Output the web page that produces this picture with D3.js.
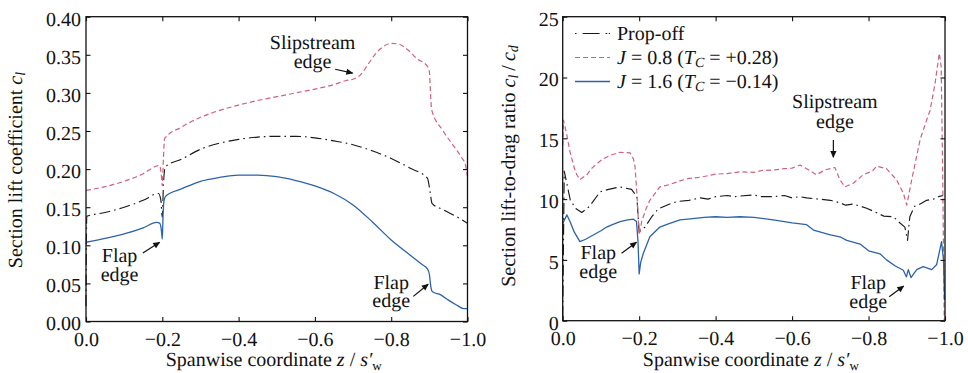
<!DOCTYPE html>
<html>
<head>
<meta charset="utf-8">
<script src="https://cdn.jsdelivr.net/npm/d3@7"></script>
<style>
  html, body { margin: 0; padding: 0; background: #fff; }
  svg { display: block; }
  svg text { font-family: "Nimbus Roman", "Tinos", "Liberation Serif", "FreeSerif", serif; text-rendering: geometricPrecision; }
</style>
</head>
<body>
<svg id="chart" width="968" height="373"></svg>
<script>
// Spanwise sections z / s'_w (0 = root, -1 = tip); pairs are [z, value]

// Section lift coefficient c_l
const clPropOff = [[0,0.02],[-0.002,0.138],[-0.05,0.143],[-0.1,0.150],[-0.15,0.159],[-0.19,0.168],[-0.196,0.160],
  [-0.2,0.137],[-0.203,0.180],[-0.208,0.203],[-0.25,0.213],[-0.3,0.226],[-0.35,0.234],[-0.4,0.239],[-0.45,0.242],
  [-0.5,0.243],[-0.55,0.243],[-0.6,0.241],[-0.65,0.237],[-0.7,0.232],[-0.75,0.224],[-0.8,0.214],[-0.85,0.201],
  [-0.895,0.188],[-0.902,0.170],[-0.907,0.155],[-0.935,0.147],[-0.97,0.138],[-1.0,0.129]];
const clJ08 = [[0,0.172],[-0.05,0.177],[-0.1,0.184],[-0.15,0.194],[-0.185,0.204],[-0.192,0.205],[-0.197,0.195],
  [-0.2,0.178],[-0.203,0.215],[-0.206,0.240],[-0.25,0.255],[-0.3,0.268],[-0.35,0.277],[-0.4,0.284],[-0.45,0.290],
  [-0.5,0.295],[-0.55,0.300],[-0.6,0.305],[-0.65,0.311],[-0.68,0.316],[-0.7,0.318],[-0.72,0.324],[-0.74,0.338],
  [-0.76,0.352],[-0.78,0.361],[-0.8,0.365],[-0.82,0.364],[-0.84,0.358],[-0.87,0.344],[-0.893,0.336],[-0.9,0.328],
  [-0.903,0.300],[-0.906,0.278],[-0.935,0.251],[-0.97,0.226],[-0.985,0.215],[-0.995,0.205],[-1.0,0.19]];
const clJ16 = [[0,0.104],[-0.05,0.109],[-0.1,0.115],[-0.15,0.123],[-0.185,0.130],[-0.193,0.129],[-0.198,0.118],
  [-0.2,0.108],[-0.202,0.140],[-0.205,0.160],[-0.21,0.165],[-0.25,0.174],[-0.3,0.184],[-0.35,0.189],[-0.4,0.192],
  [-0.45,0.192],[-0.5,0.190],[-0.55,0.185],[-0.6,0.178],[-0.65,0.168],[-0.7,0.153],[-0.75,0.131],[-0.8,0.107],
  [-0.85,0.087],[-0.88,0.075],[-0.895,0.069],[-0.9,0.062],[-0.904,0.045],[-0.908,0.039],[-0.93,0.035],
  [-0.95,0.028],[-0.97,0.022],[-0.99,0.017],[-1.0,0.017]];

// Section lift-to-drag ratio c_l / c_d
const ldPropOff = [[0,0.3],[-0.004,12.3],[-0.01,11.4],[-0.02,9.9],[-0.035,9.2],[-0.05,8.9],[-0.07,9.4],[-0.098,10.6],
  [-0.12,10.8],[-0.15,11.0],[-0.18,10.8],[-0.194,10.2],[-0.2,7.3],[-0.215,7.7],[-0.233,8.55],[-0.25,9.2],
  [-0.28,9.6],[-0.3,9.8],[-0.33,9.9],[-0.36,10.1],[-0.38,10.0],[-0.4,10.2],[-0.43,10.3],[-0.45,10.2],[-0.464,10.25],
  [-0.5,10.35],[-0.52,10.2],[-0.551,10.2],[-0.58,10.3],[-0.6,10.1],[-0.62,10.2],[-0.638,10.1],[-0.67,10.0],
  [-0.7,9.9],[-0.725,9.7],[-0.74,9.5],[-0.76,9.6],[-0.795,9.25],[-0.82,8.9],[-0.84,8.6],[-0.865,8.55],[-0.88,8.1],
  [-0.895,7.7],[-0.902,6.6],[-0.905,7.6],[-0.908,8.55],[-0.92,9.4],[-0.935,9.6],[-0.952,9.9],[-0.97,10.0],
  [-0.983,10.2],[-0.995,10.3]];
const ldJ08 = [[0,14.4],[-0.002,16.5],[-0.01,15.4],[-0.019,13.9],[-0.03,12.6],[-0.037,12.0],[-0.045,11.6],
  [-0.063,12.0],[-0.075,12.5],[-0.089,12.9],[-0.105,13.3],[-0.124,13.6],[-0.15,13.85],[-0.176,13.8],[-0.185,13.3],
  [-0.189,12.7],[-0.194,10.5],[-0.2,7.05],[-0.207,8.2],[-0.218,9.2],[-0.228,9.9],[-0.254,11.0],[-0.28,11.2],
  [-0.307,11.5],[-0.33,11.7],[-0.36,11.8],[-0.4,12.05],[-0.43,12.1],[-0.464,12.25],[-0.5,12.2],[-0.52,12.35],
  [-0.551,12.4],[-0.58,12.5],[-0.6,12.55],[-0.621,12.8],[-0.638,12.5],[-0.664,12.0],[-0.686,12.4],[-0.712,12.6],
  [-0.725,11.6],[-0.738,11.0],[-0.76,11.3],[-0.786,12.0],[-0.81,12.3],[-0.821,12.7],[-0.847,12.5],[-0.873,11.6],
  [-0.891,10.5],[-0.9,9.5],[-0.913,11.6],[-0.935,14.9],[-0.952,16.5],[-0.961,17.3],[-0.974,19.5],[-0.985,22.0],
  [-0.99,20.9],[-0.994,12.0],[-0.998,0]];
const ldJ16 = [[0,8.0],[-0.011,8.7],[-0.02,8.1],[-0.03,7.3],[-0.045,6.5],[-0.06,6.7],[-0.08,7.05],[-0.1,7.4],
  [-0.115,7.7],[-0.13,7.9],[-0.15,8.15],[-0.17,8.3],[-0.185,8.35],[-0.193,8.15],[-0.197,6.5],[-0.2,3.85],
  [-0.204,4.8],[-0.211,5.55],[-0.228,6.9],[-0.254,7.7],[-0.28,8.0],[-0.307,8.3],[-0.34,8.4],[-0.37,8.5],
  [-0.4,8.55],[-0.43,8.5],[-0.464,8.55],[-0.5,8.5],[-0.551,8.3],[-0.6,8.05],[-0.638,7.9],[-0.656,7.45],
  [-0.7,7.05],[-0.725,6.9],[-0.743,6.6],[-0.778,6.3],[-0.8,5.75],[-0.83,5.5],[-0.847,5.0],[-0.87,4.5],
  [-0.891,4.15],[-0.899,3.6],[-0.904,4.2],[-0.911,3.55],[-0.926,4.2],[-0.943,4.45],[-0.965,4.2],[-0.978,4.6],
  [-0.991,6.5],[-0.996,5.0],[-0.999,1.7]];

// Axis ticks
const spanTicks = [0, -0.2, -0.4, -0.6, -0.8, -1.0];
const clTicks = [0, 0.05, 0.10, 0.15, 0.20, 0.25, 0.30, 0.35, 0.40];
const ldTicks = [0, 5, 10, 15, 20, 25];

const seriesNames = ["Prop-off", "J08", "J16"];

const styles = {
  "Prop-off": { color: "#1a1a1a", dash: "11,4,1.6,4", width: 1.15 },
  "J08": { color: "#d2607b", dash: "5,3", width: 1.2 },
  "J16": { color: "#2c62ac", dash: null, width: 1.3 }
};

const FS = 20;
const svg = d3.select("#chart");

svg.append("defs").append("marker")
  .attr("id", "arrowhead")
  .attr("viewBox", "0 0 10 10")
  .attr("refX", 9).attr("refY", 5)
  .attr("markerWidth", 8).attr("markerHeight", 7)
  .attr("markerUnits", "userSpaceOnUse")
  .attr("orient", "auto")
  .append("path").attr("d", "M0,0.5 L10,5 L0,9.5 Z").attr("fill", "#111");

const fmtMinus = s => s.replace("-", "\u2212");

function addRichText(sel, parts) {
  parts.forEach(p => {
    const t = sel.append("tspan").text(p.t);
    if (p.i) t.attr("font-style", "italic");
    if (p.sub) t.attr("font-size", p.fs || 14).attr("baseline-shift", p.shift || "-22%");
  });
}

function panel(cfg) {
  const g = svg.append("g");
  const x = d3.scaleLinear().domain([0, -1]).range([cfg.left, cfg.right]);
  const y = d3.scaleLinear().domain(cfg.yDomain).range([cfg.bottom, cfg.top]);

  // series
  const line = d3.line().x(d => x(d[0])).y(d => y(d[1]));
  if (cfg.smooth) line.curve(d3.curveMonotoneX);
  cfg.series.forEach((data, i) => {
    const st = styles[seriesNames[i]];
    g.append("path").datum(data)
      .attr("fill", "none")
      .attr("stroke", st.color)
      .attr("stroke-width", st.width)
      .attr("stroke-dasharray", st.dash)
      .attr("stroke-linejoin", "round")
      .attr("d", line);
  });

  // axes: ticks point inward on all four sides
  const tl = 4.5;
  const axB = g.append("g").attr("transform", `translate(0,${cfg.bottom})`)
    .call(d3.axisBottom(x).tickValues(spanTicks).tickSize(-tl).tickPadding(10)
      .tickFormat(d => fmtMinus(d3.format(".1f")(d))));
  const axT = g.append("g").attr("transform", `translate(0,${cfg.top})`)
    .call(d3.axisTop(x).tickValues(spanTicks).tickSize(-tl).tickFormat(""));
  const axL = g.append("g").attr("transform", `translate(${cfg.left},0)`)
    .call(d3.axisLeft(y).tickValues(cfg.yTicks).tickSize(-tl).tickPadding(cfg.yPad)
      .tickFormat(cfg.yFormat));
  const axR = g.append("g").attr("transform", `translate(${cfg.right},0)`)
    .call(d3.axisRight(y).tickValues(cfg.yTicks).tickSize(-tl).tickFormat(""));
  [axB, axT, axL, axR].forEach(a => {
    a.attr("font-family", null);
    a.select(".domain").remove();
    a.selectAll(".tick line").attr("stroke", "#111").attr("stroke-width", 1.1);
    a.selectAll("text").attr("font-size", FS).attr("fill", "#111");
  });
  axL.selectAll("text").attr("dy", "0.42em");
  axB.selectAll("text").attr("dy", "0.71em");

  g.append("rect")
    .attr("x", cfg.left).attr("y", cfg.top)
    .attr("width", cfg.right - cfg.left).attr("height", cfg.bottom - cfg.top)
    .attr("fill", "none").attr("stroke", "#111").attr("stroke-width", 1.3);

  // x-axis title
  const xt = g.append("text")
    .attr("x", (cfg.left + cfg.right) / 2 - 3).attr("y", 366)
    .attr("text-anchor", "middle").attr("font-size", FS).attr("fill", "#111");
  addRichText(xt, [
    { t: "Spanwise coordinate " }, { t: "z", i: true }, { t: " / " }, { t: "s\u2032", i: true },
    { t: "w", sub: true, fs: 13, shift: "-30%" }
  ]);

  // y-axis title
  const yt = g.append("text")
    .attr("transform", `translate(${cfg.yTitleX},${cfg.yTitleY}) rotate(-90)`)
    .attr("text-anchor", "middle").attr("font-size", FS).attr("fill", "#111");
  addRichText(yt, cfg.yTitle);

  // annotations
  cfg.notes.forEach(n => {
    const t = g.append("text")
      .attr("x", x(n.tz)).attr("y", y(n.tv))
      .attr("text-anchor", "middle").attr("font-size", FS).attr("fill", "#111");
    n.lines.forEach((s, k) => {
      t.append("tspan").attr("x", x(n.tz)).attr("dy", k === 0 ? 0 : n.gap).text(s);
    });
    g.append("line")
      .attr("x1", x(n.from[0])).attr("y1", y(n.from[1]))
      .attr("x2", x(n.to[0])).attr("y2", y(n.to[1]))
      .attr("stroke", "#111").attr("stroke-width", 1.2)
      .attr("marker-end", "url(#arrowhead)");
  });
  return { g, x, y };
}

panel({
  left: 86, right: 467.5, top: 16.7, bottom: 321.5,
  yDomain: [0, 0.40], yTicks: clTicks, yFormat: d3.format(".2f"), yPad: 5,
  series: [clPropOff, clJ08, clJ16], smooth: true,
  yTitleX: 22, yTitleY: 170,
  yTitle: [{ t: "Section lift coefficient " }, { t: "c", i: true }, { t: "l", i: true, sub: true, fs: 14 }],
  notes: [
    { lines: ["Slipstream", "edge"], tz: -0.594, tv: 0.358, gap: 19, from: [-0.653, 0.331], to: [-0.699, 0.326] },
    { lines: ["Flap", "edge"], tz: -0.088, tv: 0.078, gap: 19, from: [-0.149, 0.090], to: [-0.193, 0.104] },
    { lines: ["Flap", "edge"], tz: -0.80, tv: 0.043, gap: 18.5, from: [-0.858, 0.033], to: [-0.897, 0.049] }
  ]
});

panel({
  left: 562.7, right: 945, top: 16.7, bottom: 320.7,
  yDomain: [0, 25], yTicks: ldTicks, yFormat: d3.format("d"), yPad: 4,
  series: [ldPropOff, ldJ08, ldJ16], smooth: false,
  yTitleX: 515, yTitleY: 166,
  yTitle: [{ t: "Section lift-to-drag ratio " }, { t: "c", i: true }, { t: "l", i: true, sub: true, fs: 14 },
           { t: "\u2009/\u2009" }, { t: "c", i: true }, { t: "d", i: true, sub: true, fs: 14 }],
  notes: [
    { lines: ["Slipstream", "edge"], tz: -0.712, tv: 17.47, gap: 20, from: [-0.708, 14.86], to: [-0.708, 13.44] },
    { lines: ["Flap", "edge"], tz: -0.093, tv: 5.05, gap: 19, from: [-0.154, 5.54], to: [-0.193, 6.45] },
    { lines: ["Flap", "edge"], tz: -0.799, tv: 2.58, gap: 19, from: [-0.854, 1.97], to: [-0.892, 2.85] }
  ]
});

// legend
const legendItems = [
  { key: "Prop-off", label: [{ t: "Prop-off" }] },
  { key: "J08", label: [{ t: "J", i: true }, { t: " = 0.8 (" }, { t: "T", i: true }, { t: "C", i: true, sub: true, fs: 14 },
                        { t: " = +0.28)" }] },
  { key: "J16", label: [{ t: "J", i: true }, { t: " = 1.6 (" }, { t: "T", i: true }, { t: "C", i: true, sub: true, fs: 14 },
                        { t: " = \u22120.14)" }] }
];
const lg = svg.append("g");
legendItems.forEach((it, i) => {
  const cy = 33.5 + i * 24;
  const st = styles[it.key];
  lg.append("line")
    .attr("x1", 575).attr("x2", 610).attr("y1", cy).attr("y2", cy)
    .attr("stroke", st.color).attr("stroke-width", st.width)
    .attr("stroke-dasharray", it.key === "Prop-off" ? "1.6,6,17,6,1.6" : st.dash);
  const t = lg.append("text").attr("x", 617).attr("y", cy + 6.5)
    .attr("font-size", FS).attr("fill", "#111");
  addRichText(t, it.label);
});
</script>
</body>
</html>
